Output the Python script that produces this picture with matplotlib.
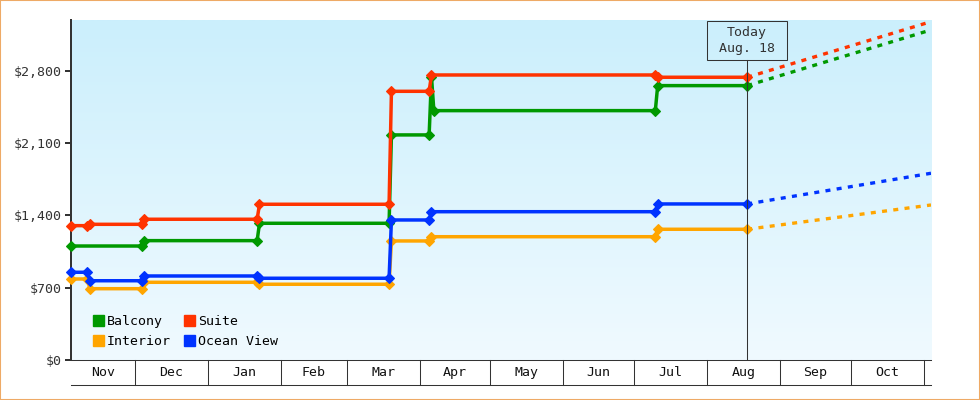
import numpy as np
import pandas as pd
import matplotlib
matplotlib.use("Agg")
import matplotlib.pyplot as plt
import matplotlib.dates as mdates
import matplotlib.transforms as mtransforms
from matplotlib.patches import Patch, Rectangle
from matplotlib.colors import LinearSegmentedColormap

plt.rcParams['font.family'] = ['DejaVu Sans Mono']
plt.rcParams['font.size'] = 9.5

# price history per cabin type
balcony_dates = ["2012-11-04", "2012-12-04", "2012-12-05", "2013-01-22", "2013-01-23",
                 "2013-03-19", "2013-03-20", "2013-04-05", "2013-04-06", "2013-04-07",
                 "2013-07-10", "2013-07-11", "2013-08-18"]
balcony_prices = [1103, 1103, 1155, 1155, 1323, 1323, 2178, 2178, 2740, 2413, 2413, 2655, 2655]

suite_dates = ["2012-11-04", "2012-11-11", "2012-11-12", "2012-12-04", "2012-12-05",
               "2013-01-22", "2013-01-23", "2013-03-19", "2013-03-20", "2013-04-05",
               "2013-04-06", "2013-07-10", "2013-07-11", "2013-08-18"]
suite_prices = [1300, 1300, 1313, 1313, 1362, 1362, 1507, 1507, 2600, 2600, 2758, 2758, 2736, 2736]

interior_dates = suite_dates
interior_prices = [784, 784, 690, 690, 752, 752, 733, 733, 1152, 1152, 1193, 1193, 1265, 1265]

ocean_dates = suite_dates
ocean_prices = [849, 849, 767, 767, 813, 813, 791, 791, 1355, 1355, 1435, 1435, 1510, 1510]

# projection from today to the end of the range
proj_dates = ["2013-08-18", "2013-11-04"]
balcony_proj = [2655, 3194]
suite_proj = [2736, 3274]
interior_proj = [1265, 1500]
ocean_proj = [1510, 1807]

today = "2013-08-18"
today_label = "Today\nAug. 18"
x_range = ["2012-11-04", "2013-11-04"]

yticks = [0, 700, 1400, 2100, 2800]
ytick_labels = ["$0", "$700", "$1,400", "$2,100", "$2,800"]
ymax = 3290


def to_num(ds):
    return mdates.date2num(pd.to_datetime(ds).to_pydatetime())


fig = plt.figure(figsize=(9.8, 4), dpi=100)
ax = fig.add_axes([71 / 980, 40 / 400, 860 / 980, 340 / 400])

# background gradient
grad = np.linspace(0, 1, 256).reshape(-1, 1)
cmap = LinearSegmentedColormap.from_list("sky", ["#f0faff", "#cbeffc"])
ax.imshow(grad, extent=[0, 1, 0, 1], transform=ax.transAxes, origin="lower",
          cmap=cmap, aspect="auto", zorder=0)

series = [
    ("Balcony", "#009900", balcony_dates, balcony_prices, balcony_proj),
    ("Suite", "#ff3300", suite_dates, suite_prices, suite_proj),
    ("Interior", "#ffa500", interior_dates, interior_prices, interior_proj),
    ("Ocean View", "#0033ff", ocean_dates, ocean_prices, ocean_proj),
]

for name, color, ds, vals, proj in series:
    ax.plot(to_num(ds), vals, color=color, lw=2.5, marker="D", ms=5, mew=0.8,
            mec=color, mfc=color, clip_on=False, zorder=3)
    ax.plot(to_num(proj_dates), proj, color=color, lw=2.4, dashes=(1.5, 1.9),
            zorder=3)

x0, x1 = to_num(x_range)
ax.set_xlim(x0, x1)
ax.set_ylim(0, ymax)

# y axis
ax.set_yticks(yticks)
ax.set_yticklabels(ytick_labels)
ax.tick_params(axis="y", length=4.3, width=1.44, pad=2.2, colors="#333333")
ax.set_xticks([])
for s in ["top", "right"]:
    ax.spines[s].set_visible(False)
ax.spines["left"].set_linewidth(1.44)
ax.spines["left"].set_color("#333333")
ax.spines["bottom"].set_linewidth(0.75)
ax.spines["bottom"].set_color("#333333")

# month strip under the axis
trans = mtransforms.blended_transform_factory(ax.transData, ax.transAxes)
band = 25 / 340
months = pd.date_range("2012-11-01", "2013-12-01", freq="MS")
mnum = to_num(months)
for m in mnum:
    if x0 < m < x1:
        ax.plot([m, m], [0, -band], transform=trans, color="#333333", lw=0.75,
                clip_on=False)
ax.plot([x0, x1], [-band, -band], transform=trans, color="#333333", lw=0.75,
        clip_on=False)
for i in range(len(months) - 1):
    a = max(mnum[i], x0)
    b = min(mnum[i + 1], x1)
    if b - a > 10:
        ax.text((a + b) / 2, -band / 2, months[i].strftime("%b"), transform=trans,
                ha="center", va="center", color="#111111")

# today marker
t = to_num([today])[0]
box_bottom = 300 / 340
box_top = 339.3 / 340
ax.plot([t, t], [0, box_bottom], transform=trans, color="#333333", lw=0.75, zorder=4)
ax.add_patch(Rectangle((t - 17, box_bottom), 34, box_top - box_bottom, transform=trans,
                       fill=False, ec="#333333", lw=0.75, clip_on=False, zorder=4))
ax.text(t, (box_bottom + box_top) / 2, today_label, transform=trans, ha="center",
        va="center", color="#333333", linespacing=1.3, zorder=5)

# legend
order = [0, 2, 1, 3]
handles = [Patch(color=series[i][1]) for i in order]
labels = [series[i][0] for i in order]
ax.legend(handles, labels, ncol=2, loc="lower left", bbox_to_anchor=(0.025, 0.035),
          frameon=False, handlelength=0.9, handleheight=0.9, handletextpad=0.2,
          columnspacing=0.95, labelspacing=0.55, borderpad=0, borderaxespad=0)

# orange frame around the whole picture
fig.add_artist(Rectangle((0, 0), 1, 1, transform=fig.transFigure, fill=False,
                         ec="#eeaa66", lw=1.5))

fig.savefig("out.png", dpi=100)
